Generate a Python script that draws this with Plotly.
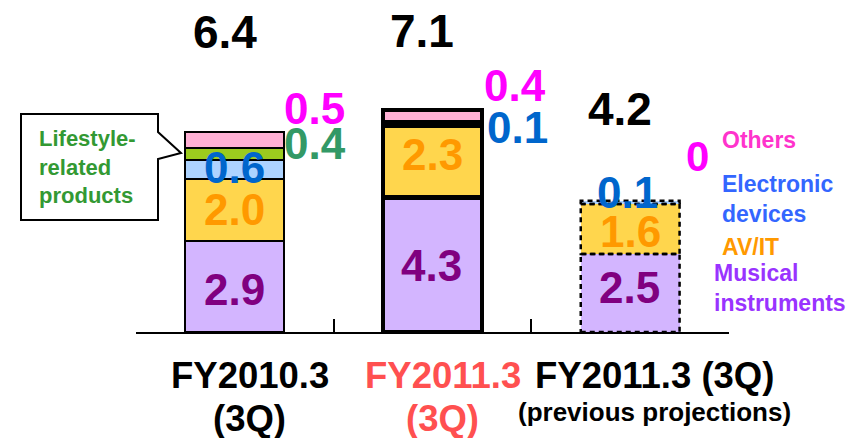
import plotly.graph_objects as go

# ---------------- data ----------------
categories = ["FY2010.3 (3Q)", "FY2011.3 (3Q)", "FY2011.3 (3Q) previous projections"]
musical = [2.9, 4.3, 2.5]
av_it = [2.0, 2.3, 1.6]
electronic = [0.6, 0.1, 0.1]
lifestyle = [0.4, 0.0, 0.0]
others = [0.5, 0.4, 0.0]
totals = [6.4, 7.1, 4.2]

cat_line1 = ["FY2010.3", "FY2011.3", "FY2011.3 (3Q)"]
cat_line2 = ["(3Q)", "(3Q)", "(previous projections)"]

segment_names = ["Musical instruments", "AV/IT", "Electronic devices", "Lifestyle-related products", "Others"]
segment_values = [musical, av_it, electronic, lifestyle, others]

# ---------------- style ----------------
PAGE_OFF = 8            # default body margin of the page
W, H = 863 - PAGE_OFF, 438 - PAGE_OFF
PLOT_X0, PLOT_X1, PLOT_Y1 = 136, 729, 332   # plot area in screen pixels
L = PLOT_X0 - PAGE_OFF
R = W - (PLOT_X1 - PAGE_OFF)
T = 0
B = H - (PLOT_Y1 - PAGE_OFF)
PX_PER_UNIT = 31.25
YMAX = (H - T - B) / PX_PER_UNIT
FONT = "Liberation Sans, Arial, sans-serif"

fill_colors = ["#D3B5FF", "#FFD64D", "#ADD3FF", "#9CCB1E", "#FFB0D4"]
label_colors = ["#800080", "#FF9900", "#0066CC", "#339966", "#FF00FF"]
bar_line_widths = [2, 4.5, 0]
BAR_W = 0.5


def px_x(px):
    return (px - PLOT_X0) / (PLOT_X1 - PLOT_X0)


def px_y(py):
    return (PLOT_Y1 - py) / (H - T - B)


fig = go.Figure()
for name, vals, col in zip(segment_names, segment_values, fill_colors):
    fig.add_trace(go.Bar(
        x=categories, y=vals, name=name, width=BAR_W,
        marker=dict(color=col, line=dict(color="black", width=bar_line_widths)),
        showlegend=False, hoverinfo="skip",
    ))

# dashed outline of the previous projection bar, derived from the data
cum = 0.0
for vals in segment_values:
    v = vals[2]
    if v > 0:
        fig.add_shape(type="rect", xref="x", yref="y",
                      x0=2 - BAR_W / 2, x1=2 + BAR_W / 2, y0=cum, y1=cum + v,
                      line=dict(color="black", width=2.5, dash="5px,4px"))
    cum += v

annotations = []

# segment value labels: (segment index, bar index, mode, xshift, yshift, size)
label_specs = [
    (0, 0, "in", 0, -3, 44), (1, 0, "in", 0, 1, 44), (2, 0, "in", 0, 2, 44),
    (3, 0, "right", -2, 10, 44), (4, 0, "right", -2, 31, 44),
    (0, 1, "in", -1, -1, 44), (1, 1, "in", 0, 7, 44),
    (2, 1, "right", 3, -3, 44), (4, 1, "right", 0, 31, 44),
    (0, 2, "in", -1, 5, 44), (1, 2, "in", 0, -3, 44), (2, 2, "in", -3, 10, 44),
    (4, 2, "right", 4, 44, 42),
]
for seg, bar, mode, xs, ys, size in label_specs:
    base = sum(segment_values[k][bar] for k in range(seg))
    v = segment_values[seg][bar]
    mid = base + v / 2
    txt = "0" if v == 0 else f"{v:.1f}"
    if mode == "in":
        annotations.append(dict(x=bar, y=mid, xref="x", yref="y", text=f"<b>{txt}</b>",
                                showarrow=False, xanchor="center", yanchor="middle",
                                xshift=xs, yshift=ys,
                                font=dict(family=FONT, size=size, color=label_colors[seg])))
    else:
        annotations.append(dict(x=bar + BAR_W / 2, y=mid, xref="x", yref="y", text=f"<b>{txt}</b>",
                                showarrow=False, xanchor="left", yanchor="middle",
                                xshift=xs, yshift=ys,
                                font=dict(family=FONT, size=size, color=label_colors[seg])))

# totals
total_shifts = [(-10, 100), (-11, 79), (-10, 92)]
for i, t in enumerate(totals):
    xs, ys = total_shifts[i]
    annotations.append(dict(x=i, y=t, xref="x", yref="y", text=f"<b>{t:.1f}</b>",
                            showarrow=False, xanchor="center", yanchor="middle",
                            xshift=xs, yshift=ys,
                            font=dict(family=FONT, size=46, color="black")))

# category labels
cat_colors = ["black", "#FF5050", "black"]
cat_shift = [15, 10, 24]
for i in range(3):
    annotations.append(dict(x=i, y=px_y(375), xref="x", yref="paper", text=f"<b>{cat_line1[i]}</b>",
                            showarrow=False, xanchor="center", yanchor="middle", xshift=cat_shift[i],
                            font=dict(family=FONT, size=36.5, color=cat_colors[i])))
    sz2 = 26 if i == 2 else 36.5
    y2 = 412 if i == 2 else 418
    annotations.append(dict(x=i, y=px_y(y2), xref="x", yref="paper", text=f"<b>{cat_line2[i]}</b>",
                            showarrow=False, xanchor="center", yanchor="middle", xshift=cat_shift[i],
                            font=dict(family=FONT, size=sz2, color=cat_colors[i])))

# right-hand legend texts
legend_items = [
    ("Others", "#FF33CC", 720, 140),
    ("Electronic<br>devices", "#3366FF", 720, 199),
    ("AV/IT", "#FF9900", 720, 247),
    ("Musical<br>instruments", "#9933FF", 712, 288),
]
for txt, col, x, y in legend_items:
    annotations.append(dict(x=px_x(x), y=px_y(y), xref="paper", yref="paper", text=f"<b>{txt}</b>",
                            showarrow=False, xanchor="left", yanchor="middle", align="left",
                            font=dict(family=FONT, size=23, color=col)))

# callout for lifestyle-related products
bx0, bx1, by0, by1 = 21, 158, 114, 220
path = (f"M {px_x(bx0)} {px_y(by0)} L {px_x(bx1)} {px_y(by0)} L {px_x(bx1)} {px_y(132)} "
        f"L {px_x(181)} {px_y(153)} L {px_x(bx1)} {px_y(159)} L {px_x(bx1)} {px_y(by1)} "
        f"L {px_x(bx0)} {px_y(by1)} Z")
fig.add_shape(type="path", xref="paper", yref="paper", path=path,
              line=dict(color="black", width=2), fillcolor="white", layer="above")
annotations.append(dict(x=px_x(37), y=px_y(167), xref="paper", yref="paper",
                        text="<b>Lifestyle-<br>related<br>products</b>", showarrow=False,
                        xanchor="left", yanchor="middle", align="left",
                        font=dict(family=FONT, size=22, color="#339933")))

fig.update_layout(
    width=W, height=H, margin=dict(l=L, r=R, t=T, b=B),
    barmode="stack", plot_bgcolor="white", paper_bgcolor="white",
    annotations=annotations,
    xaxis=dict(type="category", range=[-0.5, 2.5], showticklabels=False,
               showline=True, linecolor="black", linewidth=2,
               ticks="inside", tickson="boundaries", ticklen=13, tickwidth=2, tickcolor="black",
               showgrid=False, zeroline=False, fixedrange=True),
    yaxis=dict(range=[0, YMAX], visible=False, showgrid=False, zeroline=False, fixedrange=True),
)

fig.write_html("out.html")
